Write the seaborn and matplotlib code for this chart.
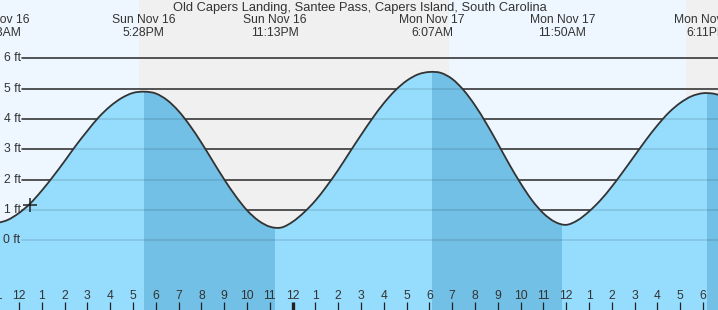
import numpy as np
import matplotlib
matplotlib.use("Agg")
import matplotlib.pyplot as plt
import matplotlib.transforms as mtransforms
from matplotlib.path import Path
from matplotlib.patches import PathPatch
import seaborn as sns

# ---------------- data ----------------
title = "Old Capers Landing, Santee Pass, Capers Island, South Carolina"

# sample times: hours after noon, Sun Nov 16 (every half hour)
sample_hours = np.arange(-1.0, 31.01, 0.5)
# water level (ft) at each sample time
heights = [0.56, 0.67, 0.90, 1.22, 1.64, 2.11, 2.61, 3.13, 3.61, 4.06,
           4.42, 4.69, 4.86, 4.90, 4.84, 4.62, 4.26, 3.78, 3.22, 2.61,
           2.01, 1.46, 0.99, 0.65, 0.45, 0.42, 0.61, 0.92, 1.31, 1.79,
           2.32, 2.90, 3.47, 4.02, 4.52, 4.94, 5.26, 5.47, 5.55, 5.52,
           5.32, 4.95, 4.45, 3.85, 3.19, 2.51, 1.88, 1.32, 0.89, 0.61,
           0.51, 0.66, 0.95, 1.32, 1.77, 2.27, 2.79, 3.31, 3.79, 4.21,
           4.53, 4.75, 4.85, 4.83, 4.72]

# high / low tides
ext_day_label = ["Sun Nov 16", "Sun Nov 16", "Sun Nov 16",
                 "Mon Nov 17", "Mon Nov 17", "Mon Nov 17"]
ext_day_index = [0, 0, 0, 1, 1, 1]
ext_time = ["11:03AM", "5:28PM", "11:13PM", "6:07AM", "11:50AM", "6:11PM"]
ext_height = [0.55, 4.90, 0.41, 5.55, 0.50, 4.85]

# sunset / sunrise
sun_day_index = [0, 1, 1]
sun_time = ["5:17PM", "6:52AM", "5:15PM"]   # sunset, sunrise, sunset

# current time marker
now_day_index = 0
now_time = "12:29PM"
now_height = 1.16

# y axis levels and hour tick labels
ft_levels = [0, 1, 2, 3, 4, 5, 6]
hour_labels = ["11", "12", "1", "2", "3", "4", "5", "6", "7", "8", "9", "10",
               "11", "12", "1", "2", "3", "4", "5", "6", "7", "8", "9", "10",
               "11", "12", "1", "2", "3", "4", "5", "6"]
first_hour = -1  # hour offset (after noon Nov 16) of first hour label


def to_hours(day, s):
    hm, ap = s[:-2], s[-2:]
    h, m = hm.split(":")
    h = int(h) % 12 + (12 if ap == "PM" else 0)
    return day * 24 + h + int(m) / 60.0 - 12


ext_t = [to_hours(d, s) for d, s in zip(ext_day_index, ext_time)]
sun_t = [to_hours(d, s) for d, s in zip(sun_day_index, sun_time)]
now_t = to_hours(now_day_index, now_time)

# ---------------- styling ----------------
sns.set_style("white")
plt.rcParams["font.family"] = ["Liberation Sans", "DejaVu Sans"]

W, H = 718, 310
FS = 8.7
TXT = "#333333"
DAY = "#eef7ff"
NIGHT = "#f0f0f0"
LIGHT = "#95dcfd"
DARK = "#72c0e5"

fig = plt.figure(figsize=(W / 100, H / 100), dpi=100)
ax = fig.add_axes([0, 0, 1, 1])
px_per_h = 22.8
x0 = 19  # pixel of noon
px_per_ft = 30.33
y0 = 240.3  # pixel of 0 ft
ax.set_xlim((0 - x0) / px_per_h, (W - x0) / px_per_h)
ax.set_ylim((y0 - H) / px_per_ft, y0 / px_per_ft)
ax.set_facecolor(DAY)
for s in ax.spines.values():
    s.set_visible(False)

# night shading
ax.axvspan(sun_t[0], sun_t[1], color=NIGHT, lw=0, zorder=0)
ax.axvspan(sun_t[2], 40, color=NIGHT, lw=0, zorder=0)

# grid lines
for lv in ft_levels:
    ax.axhline(lv, xmin=22 / W, xmax=1, color="#333333", lw=1.1, zorder=1)


# smooth (Bezier) rendering of the sampled curve
def smooth_path(xs, ys):
    p = np.column_stack([xs, ys])
    verts = [p[0]]
    codes = [Path.MOVETO]
    n = len(p)
    for i in range(n - 1):
        pm = p[i - 1] if i > 0 else p[i]
        p2 = p[i + 2] if i + 2 < n else p[i + 1]
        c1 = p[i] + (p[i + 1] - pm) / 6.0
        c2 = p[i + 1] - (p2 - p[i]) / 6.0
        verts += [c1, c2, p[i + 1]]
        codes += [Path.CURVE4] * 3
    return verts, codes


cv, cc = smooth_path(sample_hours, np.asarray(heights))
fill_verts = cv + [(sample_hours[-1], -10), (sample_hours[0], -10), cv[0]]
fill_codes = cc + [Path.LINETO, Path.LINETO, Path.CLOSEPOLY]
fill_path = Path(fill_verts, fill_codes)
ax.add_patch(PathPatch(fill_path, facecolor=LIGHT, lw=0, zorder=2))

bounds = ext_t + [40]
for i in range(len(ext_t)):
    if i + 1 < len(ext_height):
        falling = ext_height[i + 1] < ext_height[i]
    else:
        falling = ext_height[i] > ext_height[i - 1]
    if falling:
        r = ax.axvspan(bounds[i], bounds[i + 1], color=DARK, lw=0, zorder=2.5)
        r.set_clip_path(fill_path, ax.transData)

# faint grid lines over the water
for lv in ft_levels:
    ax.axhline(lv, xmin=22 / W, xmax=1, color="black", alpha=0.12, lw=1.1, zorder=3)

# curve
ax.add_patch(PathPatch(Path(cv, cc), facecolor="none", edgecolor="#333333",
                       lw=1.3, zorder=4))
sns.scatterplot(x=[now_t], y=[now_height], marker="+", s=90, linewidth=1.1,
                color="#222222", ax=ax, zorder=5)

ax.set_xlim((0 - x0) / px_per_h, (W - x0) / px_per_h)
ax.set_ylim((y0 - H) / px_per_ft, y0 / px_per_ft)
ax.set_xticks([])
ax.set_yticks([])
ax.set_xlabel("")
ax.set_ylabel("")

# y labels
ty = mtransforms.blended_transform_factory(ax.transAxes, ax.transData)
for lv in ft_levels:
    ax.text(20.5 / W, lv, f"{lv} ft", transform=ty, ha="right", va="center",
            fontsize=FS, color=TXT)

# top labels
tx = mtransforms.blended_transform_factory(ax.transData, ax.transAxes)
for t, d, s in zip(ext_t, ext_day_label, ext_time):
    ax.text(t, 1 - 20 / H, d, transform=tx, ha="center", va="center", fontsize=FS, color=TXT)
    ax.text(t, 1 - 32.5 / H, s, transform=tx, ha="center", va="center", fontsize=FS, color=TXT)

ax.text(359.7 / W, 1 - 7.5 / H, title, transform=ax.transAxes, ha="center", va="center",
        fontsize=9.25, color=TXT)

# hour ticks
for i, lab in enumerate(hour_labels):
    t = first_hour + i
    ax.text(t, 14 / H, lab, transform=tx, ha="center", va="center", fontsize=FS, color=TXT)
    bold = (lab == "12" and (t % 24) == 12)
    ax.plot([t, t], [0, 8 / H], transform=tx, color="#222222",
            lw=2.4 if bold else 0.9, solid_capstyle="butt", zorder=6)

fig.savefig("out.png", dpi=100)
